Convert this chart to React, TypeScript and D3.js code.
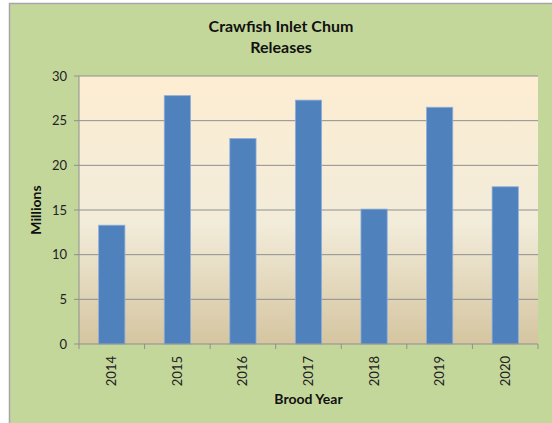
import React from 'react';
import * as d3 from 'd3';

const years = ['2014', '2015', '2016', '2017', '2018', '2019', '2020'];
const releases = [13.3, 27.8, 23.0, 27.3, 15.1, 26.5, 17.6];
const yTicks = [0, 5, 10, 15, 20, 25, 30];

const W = 552, H = 423;
const plot = { left: 79, right: 538, top: 76, bottom: 344 };
const FONT = 'Lato, "Open Sans", sans-serif';

export default function App() {
  const x = d3.scaleBand().domain(years).range([plot.left, plot.right]).paddingInner(0.6).paddingOuter(0.3);
  const y = d3.scaleLinear().domain([0, 30]).range([plot.bottom, plot.top]);
  const step = x.step();
  const bounds = d3.range(years.length + 1).map(i => plot.left + i * step);

  return (
    <div style={{ position: 'absolute', left: 0, top: 0 }}>
      <svg width={W} height={H} style={{ display: 'block' }}>
        <defs>
          <linearGradient id="plotBg" x1="0" y1="0" x2="0" y2="1">
            <stop offset="0%" stopColor="#fdedd2" />
            <stop offset="55%" stopColor="#f2ecda" />
            <stop offset="100%" stopColor="#d5c5a0" />
          </linearGradient>
        </defs>
        <rect x={0} y={0} width={W} height={H} fill="#fff" />
        <rect x={9.5} y={3.5} width={W} height={H} fill="#c4d79b" stroke="#a6a6a6" strokeWidth={1.5} />
        <text x={281} y={32} textAnchor="middle" fontFamily={FONT} fontWeight="bold" fontSize={16} fill="#111">Crawfish Inlet Chum</text>
        <text x={281} y={53} textAnchor="middle" fontFamily={FONT} fontWeight="bold" fontSize={16} fill="#111">Releases</text>

        <rect x={plot.left} y={plot.top} width={plot.right - plot.left} height={plot.bottom - plot.top} fill="url(#plotBg)" />

        {yTicks.map(t => (
          <g key={t}>
            {t > 0 && <line x1={plot.left} x2={plot.right} y1={y(t)} y2={y(t)} stroke="#8f8f8f" strokeWidth={1} />}
            <line x1={plot.left - 5} x2={plot.left} y1={y(t)} y2={y(t)} stroke="#8f8f8f" />
            <text x={plot.left - 12} y={y(t)} dy="0.35em" textAnchor="end" fontFamily={FONT} fontSize={13} fill="#222">{t}</text>
          </g>
        ))}

        {years.map((yr, i) => (
          <rect key={yr} x={x(yr)} y={y(releases[i])} width={x.bandwidth()} height={plot.bottom - y(releases[i])}
            fill="#4f81bd" stroke="#8eaedb" strokeWidth={0.8} />
        ))}

        <line x1={plot.left} x2={plot.left} y1={plot.top} y2={plot.bottom} stroke="#8f8f8f" />
        <line x1={plot.left} x2={plot.right} y1={plot.bottom} y2={plot.bottom} stroke="#8f8f8f" />
        {bounds.map((b, i) => (
          <line key={i} x1={b} x2={b} y1={plot.bottom} y2={plot.bottom + 5} stroke="#8f8f8f" />
        ))}

        {years.map(yr => {
          const cx = (x(yr) as number) + x.bandwidth() / 2;
          return (
            <text key={yr} transform={`translate(${cx},${plot.bottom + 12}) rotate(-90)`} textAnchor="end" dy="0.35em"
              fontFamily={FONT} fontSize={13} fill="#222">{yr}</text>
          );
        })}

        <text x={(plot.left + plot.right) / 2} y={404} textAnchor="middle" fontFamily={FONT} fontWeight="bold" fontSize={14} fill="#111">Brood Year</text>
        <text transform={`translate(36,${(plot.top + plot.bottom) / 2}) rotate(-90)`} textAnchor="middle" dy="0.35em"
          fontFamily={FONT} fontWeight="bold" fontSize={14} fill="#111">Millions</text>
      </svg>
    </div>
  );
}
